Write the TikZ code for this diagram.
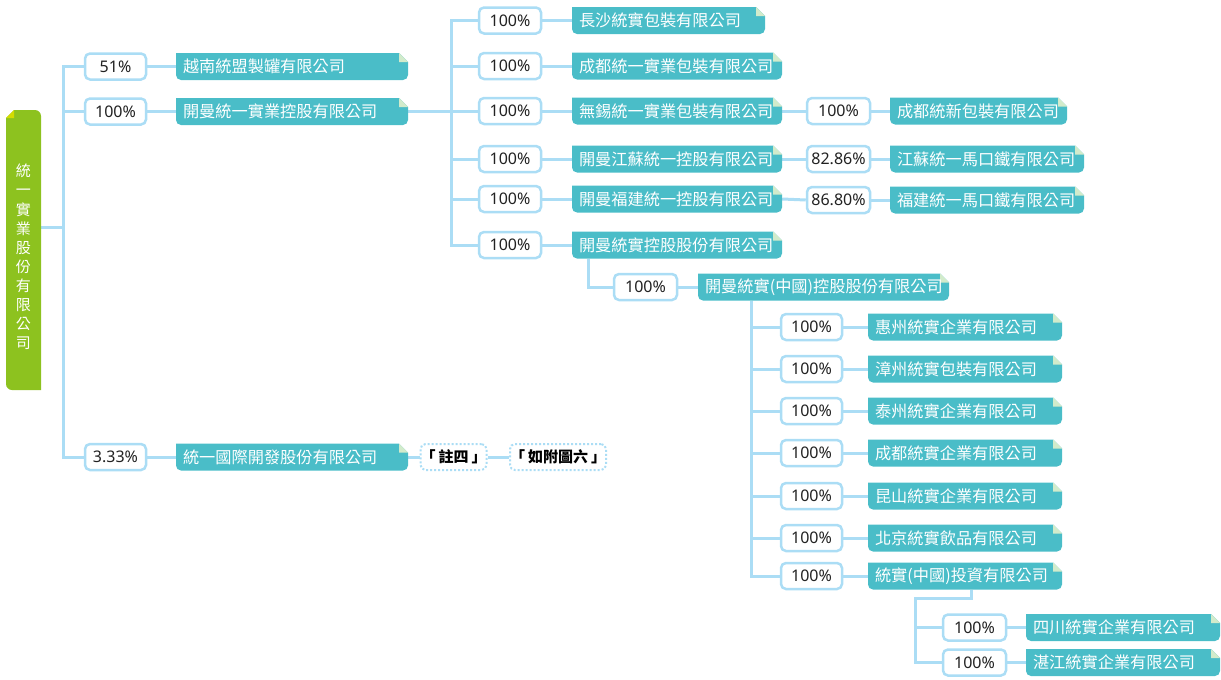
\documentclass[tikz,border=0pt]{standalone}
\usepackage{fontspec}
\newfontfamily\cjk{Noto Sans CJK TC}
\newfontfamily\pctfont{Noto Sans}
\usetikzlibrary{backgrounds}
\definecolor{tealc}{HTML}{4ABDC8}
\definecolor{foldc}{HTML}{D2EBCB}
\definecolor{rootc}{HTML}{8DC21F}
\definecolor{rootfold}{HTML}{D4DC00}
\definecolor{linec}{HTML}{ABDDF5}
\definecolor{pcttext}{HTML}{222222}
\tikzset{
  conn/.style={draw=linec, line width=3pt},
  pctbox/.style={draw=linec, line width=2.5pt, fill=white, rounded corners=5pt,
    minimum height=26pt, inner sep=0pt, text=pcttext, font=\pctfont\fontsize{16}{18}\selectfont},
  comptext/.style={inner xsep=7pt, inner ysep=0pt, minimum height=27pt, align=left,
    text=white, font=\cjk\fontsize{16.2}{18}\selectfont},
  notebox/.style={draw=linec, line width=2pt, dotted, fill=white, rounded corners=5pt,
    minimum height=26pt, inner sep=0pt, text=black, font=\cjk\bfseries\fontsize{15}{18}\selectfont},
  roottext/.style={align=center, text=white, inner sep=0pt, font=\cjk\fontsize{15}{19.1}\selectfont}
}
\newcommand\comp[5]{%
  \fill[tealc] (#2,#4-13.5) -- (#3-9,#4-13.5) -- (#3,#4-4.5) [rounded corners=5pt] -- (#3,#4+13.5) -- (#2,#4+13.5) [sharp corners] -- cycle;
  \fill[foldc] (#3-9,#4-13.5) -- (#3-9,#4-4.5) -- (#3,#4-4.5) -- cycle;
  \pgfmathsetmacro\cmpw{#3-#2}%
  \pgfmathsetmacro\cmptw{#3-#2-14}%
  \node[comptext, minimum width=\cmpw pt, text width=\cmptw pt] (#1) at ({(#2+#3)/2},#4) {#5};
}
\newcommand\pct[5]{%
  \pgfmathsetmacro\pctw{#3-#2}%
  \node[pctbox, minimum width=\pctw pt] (#1) at ({(#2+#3)/2},#4) {#5};
}
\begin{document}
\begin{tikzpicture}[x=1pt,y=-1pt]
\useasboundingbox (0,0) rectangle (1221,680);
% root
\fill[rootc] (6,118) -- (14,110) [rounded corners=6pt] -- (41,110) [sharp corners] -- (41,390) [rounded corners=6pt] -- (6,390) [sharp corners] -- cycle;
\fill[rootfold] (6,118) -- (14,110) -- (14,118) -- cycle;
\node[roottext] (root) at (23.5,257) {統\\一\\實\\業\\股\\份\\有\\限\\公\\司};
\coordinate (rc) at (41,227);
% level 1
\pct{p51}{85}{146}{66.5}{51\%}
\pct{p1k}{85}{146}{111.5}{100\%}
\pct{pg}{85}{146}{457}{3.33\%}
\comp{c51}{176}{408}{66.5}{越南統盟製罐有限公司}
\comp{ck}{176}{408}{111.5}{開曼統一實業控股有限公司}
\comp{cg}{176}{408}{457}{統一國際開發股份有限公司}
\node[notebox, minimum width=60pt] (n4) at (453.5,457) {「\hspace{3pt}註四\hspace{3pt}」};
\node[notebox, minimum width=94pt] (n6) at (558,457) {「\hspace{3pt}如附圖六\hspace{3pt}」};
% level 2
\pct{q1}{479}{541}{20.5}{100\%}
\pct{q2}{479}{541}{66}{100\%}
\pct{q3}{479}{541}{111}{100\%}
\pct{q4}{479}{541}{159}{100\%}
\pct{q5}{479}{541}{199}{100\%}
\pct{q6}{479}{541}{245}{100\%}
\comp{k1}{572}{765}{20.5}{長沙統實包裝有限公司}
\comp{k2}{572}{782}{66}{成都統一實業包裝有限公司}
\comp{k3}{572}{782}{111}{無錫統一實業包裝有限公司}
\comp{k4}{572}{782}{159}{開曼江蘇統一控股有限公司}
\comp{k5}{572}{782}{199}{開曼福建統一控股有限公司}
\comp{k6}{572}{782}{245}{開曼統實控股股份有限公司}
% level 3
\pct{r3}{807}{870}{111}{100\%}
\pct{r4}{807}{870}{159}{82.86\%}
\pct{r5}{807}{870}{200}{86.80\%}
\comp{m3}{890}{1067}{111}{成都統新包裝有限公司}
\comp{m4}{890}{1084}{159}{江蘇統一馬口鐵有限公司}
\comp{m5}{890}{1084}{200}{福建統一馬口鐵有限公司}
% level 4
\pct{s0}{614}{677}{287}{100\%}
\comp{kc}{698}{949}{287}{開曼統實(中國)控股股份有限公司}
% level 5
\pct{t1}{781}{842}{327}{100\%}
\pct{t2}{781}{842}{369}{100\%}
\pct{t3}{781}{842}{411}{100\%}
\pct{t4}{781}{842}{453}{100\%}
\pct{t5}{781}{842}{496}{100\%}
\pct{t6}{781}{842}{538}{100\%}
\pct{t7}{781}{842}{576}{100\%}
\comp{d1}{868}{1062}{327}{惠州統實企業有限公司}
\comp{d2}{868}{1062}{369}{漳州統實包裝有限公司}
\comp{d3}{868}{1062}{411}{泰州統實企業有限公司}
\comp{d4}{868}{1062}{453}{成都統實企業有限公司}
\comp{d5}{868}{1062}{496}{昆山統實企業有限公司}
\comp{d6}{868}{1062}{538}{北京統實飲品有限公司}
\comp{d7}{868}{1062}{576}{統實(中國)投資有限公司}
% level 6
\pct{u1}{943}{1006}{627.5}{100\%}
\pct{u2}{943}{1006}{662.5}{100\%}
\comp{e1}{1026}{1220}{627.5}{四川統實企業有限公司}
\comp{e2}{1026}{1220}{662.5}{湛江統實企業有限公司}
\coordinate (jn) at (915,598);
% connectors
\begin{scope}[on background layer]
\foreach \p/\c in {p51/c51,p1k/ck,pg/cg}{
  \draw[conn] (rc) -| ([xshift=-20pt]\p.west) -- (\p.west);
  \draw[conn] (\p.east) -- (\c.west);
}
\draw[conn] (cg.east) -- (n4.west);
\draw[conn] (n4.east) -- (n6.west);
\foreach \i in {1,...,6}{
  \draw[conn] (ck.east) -- ([xshift=43pt]ck.east) |- (q\i.west);
  \draw[conn] (q\i.east) -- (k\i.west);
}
\foreach \i in {3,4,5}{
  \draw[conn] (k\i.east) -- (r\i.west);
  \draw[conn] (r\i.east) -- (m\i.west);
}
\draw[conn] ([xshift=17pt]k6.south west) |- (s0.west);
\draw[conn] (s0.east) -- (kc.west);
\foreach \i in {1,...,7}{
  \draw[conn] ([xshift=54pt]kc.south west) |- (t\i.west);
  \draw[conn] (t\i.east) -- (d\i.west);
}
\foreach \i in {1,2}{
  \draw[conn] ([xshift=104pt]d7.south west) |- (jn) |- (u\i.west);
  \draw[conn] (u\i.east) -- (e\i.west);
}
\end{scope}
\end{tikzpicture}
\end{document}
